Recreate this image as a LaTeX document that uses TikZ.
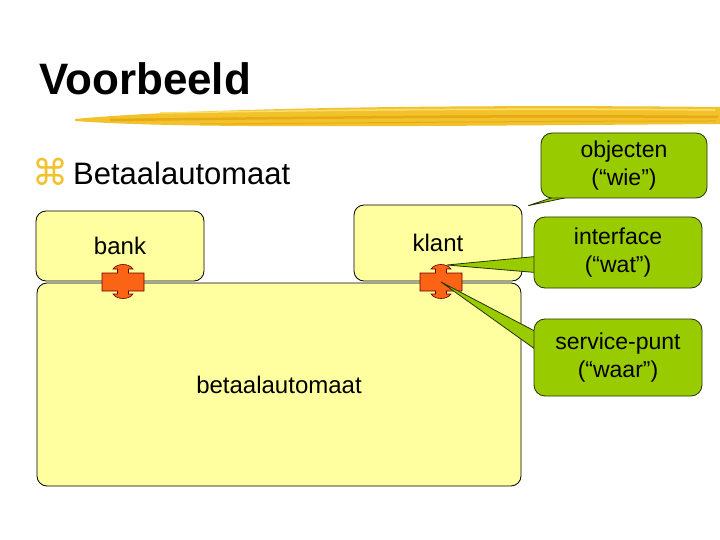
\documentclass[tikz,border=0pt]{standalone}
\usepackage{fontspec}
\setmainfont{Liberation Sans}
\newfontfamily\symfont{DejaVu Sans}
\usetikzlibrary{positioning, calc, backgrounds}

\definecolor{boxyellow}{RGB}{255,255,160}
\definecolor{calloutgreen}{RGB}{153,204,0}
\definecolor{portorange}{RGB}{250,100,20}
\definecolor{brushyellow}{RGB}{242,194,44}
\definecolor{brushdark}{RGB}{232,170,20}
\definecolor{brushlight}{RGB}{250,222,110}

\pgfdeclarelayer{front}
\pgfsetlayers{main,front}

\begin{document}
\begin{tikzpicture}[x=1pt, y=-1pt,
    % --- Global Styles ---
    base/.style={align=center, font=\fontsize{24}{28}\selectfont},
    block/.style={base, rectangle, rounded corners=10pt, draw=black, line width=0.8pt, fill=boxyellow},
    callout/.style={base, rectangle, rounded corners=11pt, draw=black!75!calloutgreen, line width=0.8pt, fill=calloutgreen, font=\fontsize{23}{28}\selectfont},
    tail/.style={fill=calloutgreen, draw=black!75!calloutgreen, line width=0.8pt, line join=round},
    port/.pic={
        \filldraw[fill=portorange, draw=black!60!red, line width=0.6pt]
            (-21,-9) -- (-5.5,-9) -- (-5.5,-13) -- (-10,-13)
            .. controls (-6,-19) and (6,-19) .. (10,-13)
            -- (5.5,-13) -- (5.5,-9) -- (21,-9) -- (21,9) -- (5.5,9) -- (5.5,12) -- (10,12)
            .. controls (6,18) and (-6,18) .. (-10,12)
            -- (-5.5,12) -- (-5.5,9) -- (-21,9) -- cycle;
    }
]
    \useasboundingbox (0,0) rectangle (720,540);
    \fill[white] (0,0) rectangle (720,540);

    % --- Title & brush stroke ---
    \node[anchor=base west, inner sep=0, font=\fontsize{44}{50}\selectfont\bfseries] (title) at (39,95) {Voorbeeld};
    \fill[brushyellow] (75,119) .. controls (180,109) and (420,104) .. (720,107)
        -- (720,124) .. controls (420,126) and (180,129) .. (75,121) -- cycle;
    \draw[brushdark, line width=2.5pt] (110,120) .. controls (300,118) and (500,115) .. (718,117);
    \draw[brushlight, line width=1.5pt] (160,113) .. controls (320,110) and (520,108) .. (715,110);
    \draw[brushdark, line width=1pt] (200,124) .. controls (350,123) and (550,121) .. (716,121);

    \node[anchor=base west, inner sep=0, font=\fontsize{31}{36}\selectfont] (topic) at (73,185) {Betaalautomaat};
    \node[anchor=base east, inner sep=0, xshift=-4pt, yshift=-1pt, text=brushyellow, font=\symfont\fontsize{36}{40}\selectfont] (bullet) at (topic.base west) {⌘};

    % --- Components ---
    \node[block, minimum width=168pt, minimum height=70pt] (bank) at (120,246) {bank};
    \node[block, minimum width=168pt, minimum height=76pt] (klant) at (438,243) {klant};
    \node[block, minimum width=484pt, minimum height=203pt] (automaat) at (279,384.5) {betaalautomaat};

    % --- Ports ---
    \coordinate (bankport) at (123,282);
    \coordinate (klantport) at (441,282);
    \pic at (bankport) {port};
    \pic at (klantport) {port};

    % --- Callouts ---
    \begin{pgfonlayer}{front}
        \node[callout, minimum width=166pt, minimum height=65pt] (wie) at (624,165.5) {objecten\\(“wie”)};
        \node[callout, minimum width=168pt, minimum height=71pt] (wat) at (618,252.5) {interface\\(“wat”)};
        \node[callout, minimum width=168pt, minimum height=77pt] (waar) at (618,357.5) {service-punt\\(“waar”)};
    \end{pgfonlayer}

    % --- Callout tails ---
    \fill[tail] ($(wie.south)+(-68,-2)$) -- ($(klant.north east)+(6,1)$) -- ($(wie.south)+(-52,-2)$) -- cycle;
    \fill[tail] ($(wat.west)+(2,4)$) -- ($(klantport)+(6,-17)$) -- ($(wat.west)+(2,20)$) -- cycle;
    \fill[tail] ($(waar.west)+(2,-26)$) -- (klantport) -- ($(waar.west)+(2,-8)$) -- cycle;

\end{tikzpicture}
\end{document}
